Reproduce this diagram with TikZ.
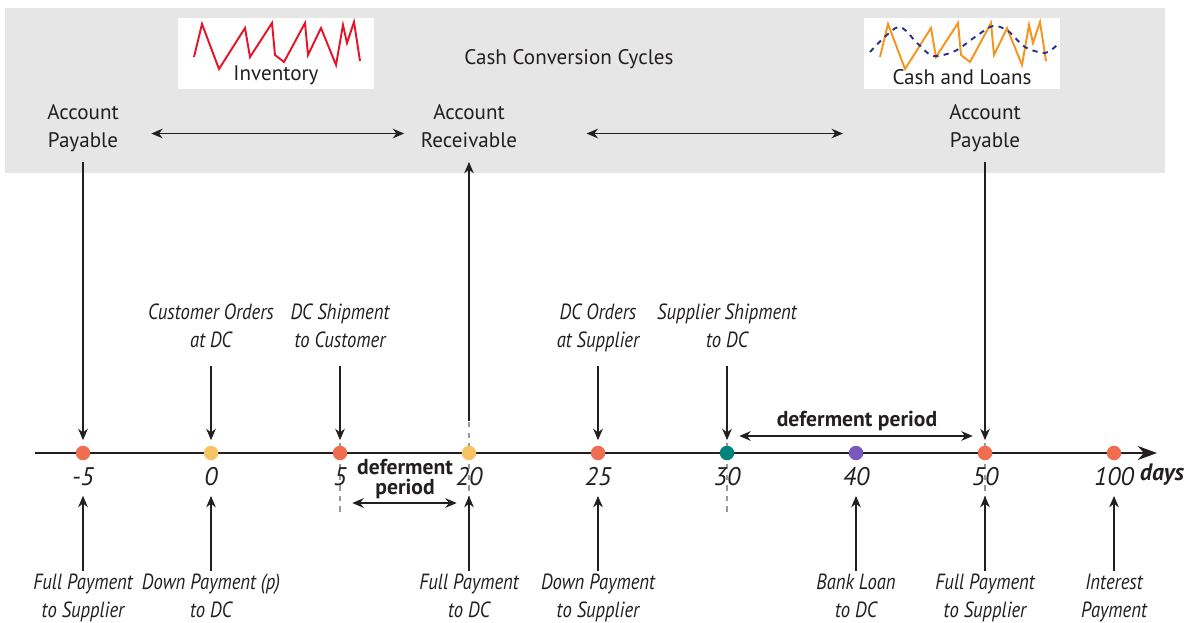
\documentclass[tikz,border=0pt]{standalone}
\usepackage{fontspec}
\setmainfont{PT Sans}
\newfontfamily\narrowfont[FakeStretch=0.85]{PT Sans}
\usetikzlibrary{arrows.meta}

\definecolor{band}{RGB}{230,230,230}
\definecolor{ink}{RGB}{35,31,32}
\definecolor{dotred}{RGB}{240,110,80}
\definecolor{dotyel}{RGB}{246,196,100}
\definecolor{dotteal}{RGB}{0,130,125}
\definecolor{dotpurp}{RGB}{120,90,190}
\definecolor{invred}{RGB}{230,20,40}
\definecolor{cashor}{RGB}{247,148,29}
\definecolor{wave}{RGB}{40,50,140}

\begin{document}
\begin{tikzpicture}[x=0.02cm,y=-0.02cm,
  lbl/.style={font=\fontsize{12}{16}\selectfont, align=center, text=ink,
    execute at begin node=\strut, execute at end node=\strut},
  evt/.style={font=\narrowfont\itshape\fontsize{12.5}{16}\selectfont, align=center, text=ink,
    execute at begin node=\strut, execute at end node=\strut},
  tick/.style={font=\itshape\fontsize{14.5}{15}\selectfont, text=ink},
  defer/.style={font=\bfseries\fontsize{12.3}{11.5}\selectfont, align=center, text=ink},
  dot/.style={circle, inner sep=0pt, minimum size=0.29cm, fill=#1},
  arr/.style={-{Stealth[length=6.5pt,width=5.5pt]}, line width=0.7pt, draw=ink},
  darr/.style={{Stealth[length=6.5pt,width=5.5pt]}-{Stealth[length=6.5pt,width=5.5pt]}, line width=0.7pt, draw=ink},
  guide/.style={dashed, draw=gray!80, line width=0.6pt}]
\useasboundingbox (0,0) rectangle (1196,622);

% Grey band
\fill[band] (5,8) rectangle (1165,173);
\node[lbl] (title) at (569,59) {Cash Conversion Cycles};

% Inventory picture
\fill[white] (178,18) rectangle (374,89);
\draw[invred, line width=1.1pt] (194,57) -- (202,24) -- (219,69) -- (245,28) -- (250,57) -- (272,23)
  -- (275,55) -- (284,62) -- (305,23) -- (308,55) -- (321,28) -- (336,65) -- (343,25) -- (347,43)
  -- (354,22) -- (360,61);
\node[lbl] (inv) at (276,75) {Inventory};

% Cash and Loans picture
\fill[white] (864,18) rectangle (1060,89);
\draw[cashor, line width=1.1pt] (880,57) -- (888,24) -- (905,69) -- (931,28) -- (936,57) -- (958,23)
  -- (961,55) -- (970,62) -- (991,23) -- (994,55) -- (1007,28) -- (1022,65) -- (1029,25) -- (1033,43)
  -- (1040,22) -- (1046,61);
\draw[wave, dashed, line width=1.1pt] plot[smooth] coordinates {(870,52) (898,27) (917,43) (933,56)
  (955,51) (975,37) (993,26) (1008,31) (1025,47) (1045,53) (1057,45)};
\node[lbl] (cash) at (962,79) {Cash and Loans};

% Cycle labels
\node[lbl] (apL) at (83,130) {Account\\Payable};
\node[lbl] (ar) at (469,130) {Account\\Receivable};
\node[lbl] (apR) at (985,130) {Account\\Payable};
\draw[darr, shorten <=15pt, shorten >=6pt] ([yshift=-2pt]apL.east) -- ([yshift=-2pt]ar.west);
\draw[darr, shorten <=36pt, shorten >=57pt] ([yshift=-2pt]ar.east) -- ([yshift=-2pt]apR.west);

% Time axis
\foreach \px in {340,469,727,985}
  \draw[guide] (\px,422) -- (\px,515);
\coordinate (axL) at (35,453);
\coordinate (axR) at (1157,453);
\draw[-{Stealth[length=11pt,width=8pt]}, line width=0.9pt, draw=ink] (axL) -- (axR);
\foreach \v/\px/\c in {-5/83/dotred, 0/211/dotyel, 5/340/dotred, 20/469/dotyel, 25/598/dotred,
    30/727/dotteal, 40/856/dotpurp, 50/985/dotred, 100/1114/dotred} {
  \node[dot=\c] (d\v) at (\px,453) {};
  \node[tick] (t\v) at (\px,477) {\v};
}
\node[font=\bfseries\itshape\fontsize{13.5}{15}\selectfont, text=ink] (days) at (1162,475) {days};

% Events above the axis
\node[evt] (custOrd) at (211,330) {Customer Orders\\at DC};
\node[evt] (dcShip) at (340,330) {DC Shipment\\to Customer};
\node[evt] (dcOrd) at (598,330) {DC Orders\\at Supplier};
\node[evt] (supShip) at (727,330) {Supplier Shipment\\to DC};
\draw[arr, shorten <=2pt, shorten >=3pt] (custOrd) -- (d0);
\draw[arr, shorten <=2pt, shorten >=3pt] (dcShip) -- (d5);
\draw[arr, shorten <=2pt, shorten >=3pt] (dcOrd) -- (d25);
\draw[arr, shorten <=2pt, shorten >=3pt] (supShip) -- (d30);
\draw[arr, shorten <=0pt, shorten >=3pt] (apL) -- (d-5);
\draw[arr, shorten <=0pt, shorten >=3pt] (apR) -- (d50);
\draw[arr, shorten <=14pt, shorten >=0pt] (d20) -- (ar);

% Events below the axis
\node[evt] (fpSup1) at (83,600) {Full Payment\\to Supplier};
\node[evt] (dpDC) at (211,600) {Down Payment (p)\\to DC};
\node[evt] (fpDC) at (469,600) {Full Payment\\to DC};
\node[evt] (dpSup) at (598,600) {Down Payment\\to Supplier};
\node[evt] (loan) at (856,600) {Bank Loan\\to DC};
\node[evt] (fpSup2) at (985,600) {Full Payment\\to Supplier};
\node[evt] (intPay) at (1114,600) {Interest\\Payment};
\draw[arr, shorten <=-2pt, shorten >=2pt] (fpSup1) -- (t-5);
\draw[arr, shorten <=-2pt, shorten >=2pt] (dpDC) -- (t0);
\draw[arr, shorten <=-2pt, shorten >=2pt] (fpDC) -- (t20);
\draw[arr, shorten <=-2pt, shorten >=2pt] (dpSup) -- (t25);
\draw[arr, shorten <=-2pt, shorten >=2pt] (loan) -- (t40);
\draw[arr, shorten <=-2pt, shorten >=2pt] (fpSup2) -- (t50);
\draw[arr, shorten <=-2pt, shorten >=2pt] (intPay) -- (t100);

% Deferment periods
\node[defer] (def1) at (405,479) {deferment\\period};
\draw[darr, shorten <=7pt, shorten >=7pt] (d5 |- 0,503) -- (d20 |- 0,503);
\node[defer] (def2) at (857,421) {deferment period};
\draw[darr, shorten <=7pt, shorten >=7pt] (d30 |- 0,436) -- (d50 |- 0,436);
\end{tikzpicture}
\end{document}
